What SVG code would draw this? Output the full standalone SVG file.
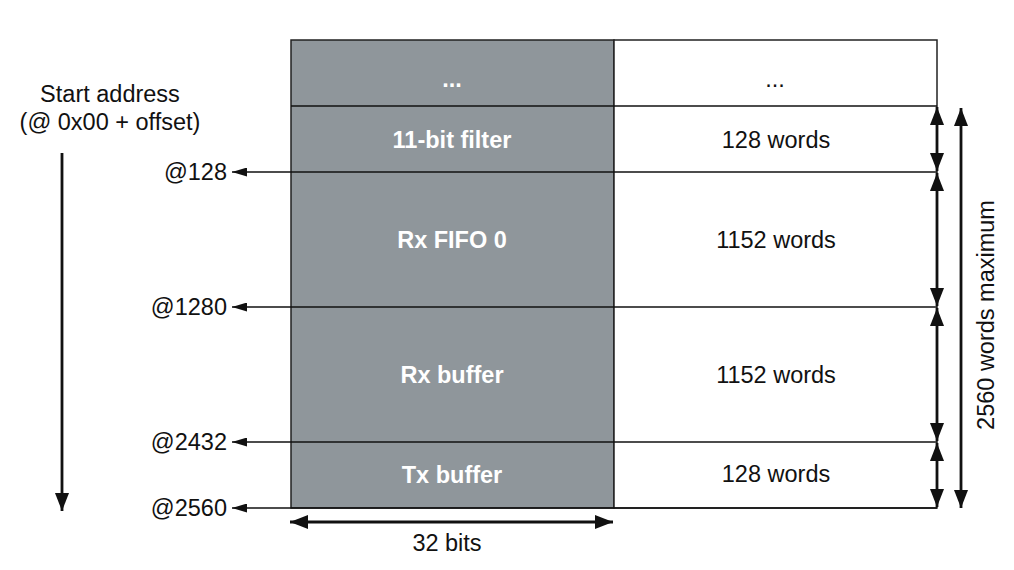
<svg xmlns="http://www.w3.org/2000/svg" width="1014" height="570" viewBox="0 0 1014 570">
<style>
text{font-family:"Liberation Sans",Arial,sans-serif;font-size:23.5px;fill:#111}
.w{fill:#fff;font-weight:bold}
.c{text-anchor:middle}
.r{text-anchor:end}
.ln{stroke:#111;stroke-width:1.5;fill:none}
.dim{stroke:#111;stroke-width:2.8;fill:none}
</style>
<defs>
<marker id="ah" viewBox="0 0 15 9" refX="15" refY="4.5" markerWidth="15" markerHeight="9" markerUnits="userSpaceOnUse" orient="auto-start-reverse"><path d="M0,0L15,4.5L0,9z" fill="#111"/></marker>
<marker id="dh" viewBox="0 0 18 14" refX="18" refY="7" markerWidth="18" markerHeight="14" markerUnits="userSpaceOnUse" orient="auto-start-reverse"><path d="M0,0L18,7L0,14z" fill="#111"/></marker>
</defs>
<g id="table">
<rect x="291" y="40" width="323" height="468" fill="#8f969b" stroke="#222" stroke-width="1.5"/>
<rect x="614" y="40" width="323" height="468" fill="#fff" stroke="#222" stroke-width="1.5"/>
<line class="ln" x1="291" y1="106" x2="937" y2="106"/>
</g>
<g id="row-top"><text class="w c" x="452" y="87">...</text><text class="c" x="775" y="87">...</text></g>
<g id="row-filter"><text class="w c" x="452" y="148">11-bit filter</text><text class="c" x="776" y="148">128 words</text></g>
<g id="row-rxfifo"><text class="w c" x="452" y="248">Rx FIFO 0</text><text class="c" x="776" y="248">1152 words</text></g>
<g id="row-rxbuf"><text class="w c" x="452" y="383">Rx buffer</text><text class="c" x="776" y="383">1152 words</text></g>
<g id="row-txbuf"><text class="w c" x="452" y="483">Tx buffer</text><text class="c" x="776" y="482">128 words</text></g>
<g id="labels">
<text class="c" x="110" y="102">Start address</text>
<text class="c" x="110" y="130">(@ 0x00 + offset)</text>
<text class="r" x="227" y="180">@128</text>
<text class="r" x="227" y="315">@1280</text>
<text class="r" x="227" y="450">@2432</text>
<text class="r" x="227" y="516">@2560</text>
<text class="c" x="447" y="551">32 bits</text>
<text class="c" transform="translate(994,315) rotate(-90)">2560 words maximum</text>
</g>
<g id="connectors">
<line class="ln" x1="937" y1="172" x2="232" y2="172" marker-end="url(#ah)"/>
<line class="ln" x1="937" y1="307" x2="232" y2="307" marker-end="url(#ah)"/>
<line class="ln" x1="937" y1="442" x2="232" y2="442" marker-end="url(#ah)"/>
<line class="ln" x1="937" y1="508" x2="232" y2="508" marker-end="url(#ah)"/>
<line class="dim" x1="62" y1="153" x2="62" y2="511" marker-end="url(#dh)"/>
<line class="dim" x1="290" y1="522" x2="613" y2="522" marker-start="url(#dh)" marker-end="url(#dh)"/>
<line class="dim" x1="937" y1="107" x2="937" y2="171" marker-start="url(#dh)" marker-end="url(#dh)"/>
<line class="dim" x1="937" y1="173" x2="937" y2="306" marker-start="url(#dh)" marker-end="url(#dh)"/>
<line class="dim" x1="937" y1="308" x2="937" y2="441" marker-start="url(#dh)" marker-end="url(#dh)"/>
<line class="dim" x1="937" y1="443" x2="937" y2="507" marker-start="url(#dh)" marker-end="url(#dh)"/>
<line class="dim" x1="961" y1="108" x2="961" y2="508" marker-start="url(#dh)" marker-end="url(#dh)"/>
</g>
</svg>
